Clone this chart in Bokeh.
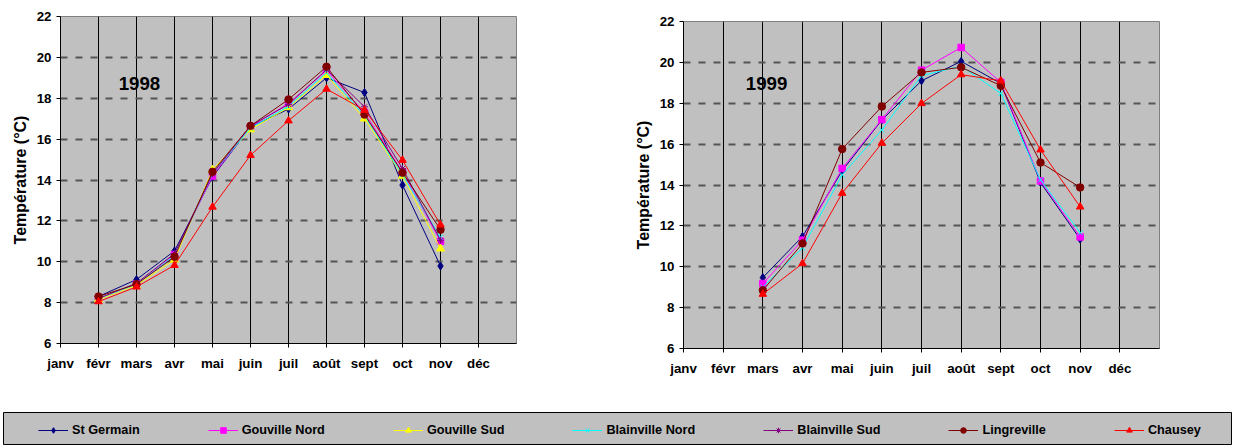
from bokeh.plotting import figure
from bokeh.models import ColumnDataSource, FixedTicker, Range1d, Label, Legend, LegendItem, Spacer
from bokeh.layouts import column, row
from bokeh.embed import file_html
from bokeh.resources import INLINE

# ---------------- data ----------------
months = ["janv", "févr", "mars", "avr", "mai", "juin", "juil", "août", "sept", "oct", "nov", "déc"]
y_ticks = [6, 8, 10, 12, 14, 16, 18, 20, 22]
stations = ["St Germain", "Gouville Nord", "Gouville Sud", "Blainville Nord",
            "Blainville Sud", "Lingreville", "Chausey"]

# 1998 (janv .. déc), None = no measurement
t1998_st_germain      = [None, 8.30, 9.13, 10.53, 14.15, 16.60, 17.47, 19.00, 18.28, 13.75, 9.79, None]
t1998_gouville_nord   = [None, 8.20, 8.90, 10.35, 14.20, 16.60, 17.75, 19.35, 17.30, 14.40, 11.00, None]
t1998_gouville_sud    = [None, 8.15, 8.85, 10.10, 14.50, 16.47, 17.55, 19.13, 17.00, 14.20, 10.64, None]
t1998_blainville_nord = [None, 8.20, 8.90, 10.30, 14.30, 16.55, 17.60, 19.25, 17.15, 14.25, 11.20, None]
t1998_blainville_sud  = [None, 8.20, 8.95, 10.40, 14.30, 16.65, 17.70, 19.40, 17.58, 14.56, 11.05, None]
t1998_lingreville     = [None, 8.30, 8.90, 10.24, 14.40, 16.65, 17.94, 19.54, 17.20, 14.36, 11.57, None]
t1998_chausey         = [None, 8.05, 8.77, 9.83, 12.68, 15.21, 16.90, 18.45, 17.42, 14.97, 11.81, None]

# 1999
t1999_st_germain      = [None, None, 9.47, 11.48, 14.70, 17.18, 19.10, 20.05, 18.97, 14.12, 11.35, None]
t1999_gouville_nord   = [None, None, 9.18, 11.30, 14.81, 17.20, 19.62, 20.73, 19.02, 14.20, 11.46, None]
t1999_gouville_sud    = [None] * 12
t1999_blainville_nord = [None, None, 9.00, 10.93, 14.50, 16.69, 19.35, 19.82, 18.48, 14.25, 11.67, None]
t1999_blainville_sud  = [None] * 12
t1999_lingreville     = [None, None, 8.85, 11.14, 15.76, 17.84, 19.51, 19.76, 18.86, 15.10, 13.88, None]
t1999_chausey         = [None, None, 8.66, 10.16, 13.60, 16.05, 17.99, 19.40, 19.10, 15.72, 12.93, None]

data_1998 = [t1998_st_germain, t1998_gouville_nord, t1998_gouville_sud, t1998_blainville_nord,
             t1998_blainville_sud, t1998_lingreville, t1998_chausey]
data_1999 = [t1999_st_germain, t1999_gouville_nord, t1999_gouville_sud, t1999_blainville_nord,
             t1999_blainville_sud, t1999_lingreville, t1999_chausey]

# ---------------- styles ----------------
colors = ["#000080", "#FF00FF", "#FFFF00", "#00FFFF", "#800080", "#800000", "#FF0000"]
markers = ["diamond", "square", "triangle", "x", "asterisk", "circle", "triangle"]
msizes = [8, 6.5, 8, 7, 7, 7.5, 7.5]

FONT = "Liberation Sans"


def series_source(vals):
    xs = [i for i, v in enumerate(vals) if v is not None]
    ys = [v for v in vals if v is not None]
    return ColumnDataSource(dict(x=xs, y=ys))


def make_chart(width, height, bl, br, bt, bb, year, data, lab_x, lab_y):
    p = figure(width=width, height=height, x_range=Range1d(0, 12), y_range=Range1d(6, 22),
               output_backend="svg", toolbar_location=None,
               min_border_left=bl, min_border_right=br, min_border_top=bt, min_border_bottom=bb)
    p.background_fill_color = "#C0C0C0"
    p.border_fill_color = "white"
    p.outline_line_color = "#808080"
    p.outline_line_width = 1

    p.xaxis.ticker = FixedTicker(ticks=list(range(12)))
    p.xaxis.major_label_overrides = {i: m for i, m in enumerate(months)}
    p.yaxis.ticker = FixedTicker(ticks=y_ticks)
    for ax in (p.xaxis, p.yaxis):
        ax.axis_line_color = "black"
        ax.axis_line_width = 1
        ax.major_tick_line_color = "black"
        ax.major_tick_out = 4
        ax.major_tick_in = 0
        ax.minor_tick_line_color = None
        ax.major_label_text_font = FONT
        ax.major_label_text_font_style = "bold"
        ax.major_label_text_font_size = "13.3px"
        ax.major_label_text_color = "black"
    p.xaxis.major_label_standoff = 8
    p.yaxis.major_label_standoff = 5
    p.yaxis.axis_label = "Température (°C)"
    p.yaxis.axis_label_text_font = FONT
    p.yaxis.axis_label_text_font_style = "bold"
    p.yaxis.axis_label_text_font_size = "16px"
    p.yaxis.axis_label_text_color = "black"
    p.yaxis.axis_label_standoff = 5

    p.xgrid.grid_line_color = "black"
    p.xgrid.grid_line_width = 1
    p.ygrid.grid_line_color = "#555555"
    p.ygrid.grid_line_width = 1.8
    p.ygrid.grid_line_dash = "7 8"

    sources = []
    for vals, c, mk, ms in zip(data, colors, markers, msizes):
        if all(v is None for v in vals):
            sources.append(None)
            continue
        src = series_source(vals)
        sources.append(src)
        p.line("x", "y", source=src, line_color=c, line_width=1)
        p.scatter("x", "y", source=src, marker=mk, size=ms, fill_color=c, line_color=c, line_width=1)

    p.add_layout(Label(x=lab_x, y=lab_y, text=year, text_font=FONT, text_font_style="bold",
                       text_font_size="18.7px", text_color="black",
                       text_align="left", text_baseline="middle"))
    return p, sources


# both charts share the same borders; the right one sits 5px lower
f1, src1998 = make_chart(620, 400, 60, 104, 16, 57, "1998", data_1998, 1.53, 18.72)
f2, _ = make_chart(616, 400, 63, 77, 16, 57, "1999", data_1999, 1.57, 18.95)
right_col = column(Spacer(width=616, height=5), f2)

# ---------------- legend strip ----------------
lf = figure(width=1236, height=40, x_range=Range1d(0, 1), y_range=Range1d(0, 1),
            x_axis_type=None, y_axis_type=None, output_backend="svg", toolbar_location=None,
            min_border_left=3, min_border_right=5, min_border_top=7, min_border_bottom=0)
lf.background_fill_color = "#C0C0C0"
lf.border_fill_color = "white"
lf.outline_line_color = "black"
lf.outline_line_width = 1

items = []
for name, src, c, mk, ms in zip(stations, src1998, colors, markers, msizes):
    # same series data, outside this strip's visible ranges: only the legend swatch shows
    lr = lf.line("x", "y", source=src, line_color=c, line_width=1)
    sr = lf.scatter("x", "y", source=src, marker=mk, size=ms, fill_color=c, line_color=c, line_width=1)
    items.append(LegendItem(label=name, renderers=[lr, sr]))

legend = Legend(items=items, orientation="horizontal", location=(35, 8),
                glyph_width=30, glyph_height=14, label_height=14, label_standoff=4,
                spacing=68, padding=0, margin=0,
                border_line_color=None, background_fill_alpha=0,
                label_text_font=FONT, label_text_font_style="bold",
                label_text_font_size="12.7px", label_text_color="black")
lf.add_layout(legend)

layout = column(row(f1, right_col), lf)

open("out.html", "w").write(file_html(layout, INLINE))
